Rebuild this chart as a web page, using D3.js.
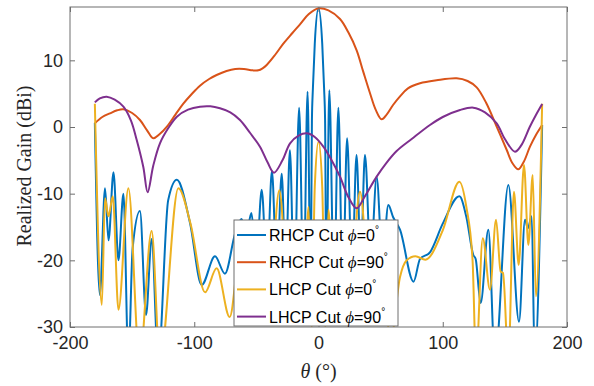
<!DOCTYPE html>
<html>
<head>
<meta charset="utf-8">
<script src="https://cdn.jsdelivr.net/npm/d3@7"></script>
<style>
  html, body { margin: 0; padding: 0; background: #fff; }
  svg { display: block; }
</style>
</head>
<body>
<div id="chart"></div>
<script>
// theta (deg) / realized gain (dBi) at peaks, nulls and bends
const rhcpPhi0 = [
  [-180, 0.6], [-176, -25.2], [-171.8, -9.2], [-169, -17], [-165, -6.8], [-161, -20],
  [-157, -10], [-153, -35], [-149.6, -18.2], [-143.7, -12.6], [-138.8, -28.2], [-134.3, -16.8],
  [-129, -35], [-121, -11], [-114, -7.9], [-103.4, -14.4], [-94, -23.7], [-83.3, -19.4],
  [-75.3, -22], [-67, -15.9], [-62, -13.8], [-58, -16], [-54, -12.9], [-50, -20],
  [-45.7, -9.4], [-41.5, -22], [-37.5, -6.6], [-33.5, -22], [-29.6, -7], [-26.5, -22],
  [-23, -3.5], [-19.5, -25], [-15.6, 2.9], [-12, -25], [-8.8, 5.3], [-6.3, -25],
  [-5.3, 1], [-4.5, 5.8], [-3, 12.5], [0, 17.8], [3, 12.5], [4.5, 5.8], [5.3, 1], [6.3, -25],
  [8.7, 5.5], [12.5, -25], [16, 2.9], [19.5, -25], [23, -1.7], [27, -22], [30.6, -4.2],
  [34, -20], [37.4, -4.2], [42, -20], [46.8, -7.5], [51.5, -20], [56.2, -11.7], [60, -13.5],
  [65.6, -15.4], [76.5, -23.2], [81.7, -19.8], [89.7, -18.8], [100, -14.5], [113.4, -10.4],
  [119, -13.5], [124.6, -19.2], [126.5, -19.8], [130.5, -26.4], [136.7, -15.4], [142, -35],
  [152.8, -8.7], [161.4, -29.2], [166.2, -13.9], [168.5, -15.2], [171.6, -13.4], [174, -35],
  [180, 0.3]
];

const rhcpPhi90 = [
  [-180, 0.55], [-174, 1.5], [-167.8, 2.05], [-162, 2.5], [-157, 2.65], [-150, 2.1],
  [-143.7, 1.05], [-138, -0.5], [-133, -1.7], [-128, -1.1], [-122, 0.05], [-115, 1.9],
  [-108.8, 3.5], [-102, 4.95], [-95.4, 6.2], [-88, 7.2], [-82, 7.8], [-74, 8.4], [-67, 8.7],
  [-60, 8.7], [-53, 8.5], [-48.4, 8.5], [-45, 8.8], [-41.7, 9.3], [-35, 10.8], [-28.3, 12.5],
  [-21, 14.1], [-14.9, 15.4], [-8, 16.9], [0, 17.8], [8, 17.5], [17.3, 16.2], [24, 14.2],
  [30.7, 11.5], [36, 8.3], [41.4, 5.1], [46, 2.6], [50.8, 1.15], [55, 1.9], [60, 3.3],
  [65.6, 4.6], [72, 5.8], [81.7, 6.55], [95, 7.0], [111.2, 7.3], [120, 6.9], [127.3, 5.95],
  [135, 3.6], [143.4, 0.05], [151.5, -3.45], [156, -5.4], [160.8, -6.35], [165, -5.3],
  [170.2, -2.95], [175, -1.2], [180, 0.3]
];

const lhcpPhi0 = [
  [-180, 3.5], [-174.4, -26.7], [-171.8, -10.7], [-169, -13.4], [-165.6, -10.4], [-161, -27.4],
  [-153, -9.2], [-144, -35], [-134.3, -15.6], [-127.6, -35], [-112.8, -9.2], [-103, -14.5],
  [-91.3, -24.8], [-82, -21.2], [-71.5, -28.5], [-62, -17], [-55, -26], [-47, -16], [-40, -26],
  [-31.5, -9.5], [-24, -26], [-17, -17], [-12, -28], [-8, -12], [-5.5, -30], [-3, -9],
  [0, -2.2], [3, -9], [5.5, -30], [8, -12.4], [12, -28], [17, -17], [24, -28], [33.4, -9.7],
  [42, -26], [50, -17], [58, -32], [65.6, -22.5], [71, -20], [78, -19.4], [86, -19.9],
  [100, -15.5], [113.4, -8.2], [119, -12], [124, -20], [126.8, -35], [132.2, -16.7],
  [138, -24.4], [142.9, -13.9], [146.6, -21.7], [148.5, -21.9], [152.8, -35], [157.3, -9.7],
  [161.1, -20.7], [165.4, -5.7], [168.9, -17.7], [172.4, -7.2], [175, -25.4], [180, 3.5]
];

const lhcpPhi90 = [
  [-180, 3.7], [-176, 4.3], [-170.5, 4.55], [-164, 4.1], [-157, 3.05], [-151, 1],
  [-146.3, -1.95], [-141, -6], [-137.5, -9.8], [-133, -5.8], [-127.6, -2.45], [-121, -0.2],
  [-114, 1.55], [-105, 2.6], [-95.4, 3.05], [-87, 3.1], [-79.3, 2.8], [-71, 2.2], [-63.2, 1.05],
  [-55, -0.9], [-47.1, -2.95], [-41, -5.3], [-35.8, -6.85], [-29, -5], [-22.9, -2.45],
  [-16, -1.3], [-9.5, -0.95], [-3, -1.5], [3.9, -2.95], [10, -4.8], [17.3, -7.45], [24, -10.5],
  [30.7, -12.2], [37, -10.5], [46.8, -7.45], [55, -5.3], [62.9, -3.6], [75, -1.8], [89.7, 0.3],
  [100, 1.5], [113.9, 2.55], [124.6, 2.9], [134, 2.2], [143.4, 0.55], [150, -1.8], [158.1, -3.7],
  [163, -2.8], [170, 0], [175, 1.8], [180, 3.45]
];

const seriesNames = ["RHCP Cut ", "RHCP Cut ", "LHCP Cut ", "LHCP Cut "];
const seriesPhi = ["0", "90", "0", "90"];
const seriesColors = ["#0072BD", "#D95319", "#EDB120", "#7E2F8E"];
const xTicks = [-200, -100, 0, 100, 200];
const yTicks = [-30, -20, -10, 0, 10];

const W = 594, H = 386;
const margin = { top: 7, right: 27, bottom: 59, left: 70 };
const iw = W - margin.left - margin.right;
const ih = H - margin.top - margin.bottom;

const svg = d3.select("#chart").append("svg")
  .attr("width", W).attr("height", H);

const x = d3.scaleLinear().domain([-200, 200]).range([0, iw]);
const y = d3.scaleLinear().domain([-30, 18]).range([ih, 0]);

const g = svg.append("g").attr("transform", `translate(${margin.left},${margin.top})`);

g.append("clipPath").attr("id", "plotclip")
  .append("rect").attr("width", iw).attr("height", ih);

// lobed cuts keep monotone so peaks sit on the read values; the smooth cuts use catmull-rom
const lobed = d3.line()
  .x(d => x(d[0]))
  .y(d => y(d[1]))
  .curve(d3.curveMonotoneX);
const smooth = d3.line()
  .x(d => x(d[0]))
  .y(d => y(d[1]))
  .curve(d3.curveCatmullRom.alpha(0.5));

const allSeries = [rhcpPhi0, rhcpPhi90, lhcpPhi0, lhcpPhi90];
const lineGen = [lobed, smooth, lobed, smooth];
const plot = g.append("g").attr("clip-path", "url(#plotclip)");
allSeries.forEach((s, i) => {
  plot.append("path")
    .datum(s)
    .attr("fill", "none")
    .attr("stroke", seriesColors[i])
    .attr("stroke-width", 2)
    .attr("stroke-linejoin", "round")
    .attr("d", lineGen[i]);
});

// box + inward ticks, matlab style
const axisColor = "#6e6e6e";
const textColor = "#262626";
const tickLen = 5;
const plainNum = d => String(d);   // matlab prints a hyphen, not a unicode minus

g.append("rect").attr("width", iw).attr("height", ih)
  .attr("fill", "none").attr("stroke", axisColor).attr("stroke-width", 1);

const xAxis = g.append("g").attr("transform", `translate(0,${ih})`)
  .call(d3.axisBottom(x).tickValues(xTicks).tickSizeInner(-tickLen).tickSizeOuter(0)
    .tickPadding(9).tickFormat(plainNum));
const xAxisTop = g.append("g")
  .call(d3.axisTop(x).tickValues(xTicks).tickSizeInner(-tickLen).tickSizeOuter(0).tickFormat(""));
const yAxis = g.append("g")
  .call(d3.axisLeft(y).tickValues(yTicks).tickSizeInner(-tickLen).tickSizeOuter(0)
    .tickPadding(7).tickFormat(plainNum));
const yAxisRight = g.append("g").attr("transform", `translate(${iw},0)`)
  .call(d3.axisRight(y).tickValues(yTicks).tickSizeInner(-tickLen).tickSizeOuter(0).tickFormat(""));

[xAxis, xAxisTop, yAxis, yAxisRight].forEach(a => {
  a.select(".domain").remove();
  a.selectAll(".tick line").attr("stroke", axisColor);
  a.selectAll(".tick text")
    .attr("fill", textColor)
    .style("font-family", "'Liberation Sans', Arial, sans-serif")
    .style("font-size", "18px");
});

// axis titles
svg.append("text")
  .attr("x", margin.left + x(0))
  .attr("y", 378)
  .attr("text-anchor", "middle")
  .attr("fill", textColor)
  .style("font-family", "'Liberation Serif', 'Times New Roman', serif")
  .style("font-size", "20px")
  .html('<tspan font-style="italic">θ</tspan> (°)');

svg.append("text")
  .attr("transform", `translate(31,${margin.top + ih / 2 - 1}) rotate(-90)`)
  .attr("text-anchor", "middle")
  .attr("fill", textColor)
  .style("font-family", "'Liberation Serif', 'Times New Roman', serif")
  .style("font-size", "20px")
  .text("Realized Gain (dBi)");

// legend
const lg = svg.append("g").attr("transform", "translate(234,220)");
lg.append("rect").attr("width", 164).attr("height", 106)
  .attr("fill", "#fff").attr("stroke", axisColor).attr("stroke-width", 1);

seriesNames.forEach((name, i) => {
  const ry = 15 + i * 27.2;
  lg.append("line")
    .attr("x1", 3).attr("x2", 32).attr("y1", ry).attr("y2", ry)
    .attr("stroke", seriesColors[i]).attr("stroke-width", 2);
  const t = lg.append("text")
    .attr("x", 35).attr("y", ry + 6)
    .attr("fill", "#000")
    .style("font-family", "'Liberation Sans', Arial, sans-serif")
    .style("font-size", "16px");
  t.append("tspan").text(name);
  t.append("tspan")
    .style("font-family", "'Liberation Serif', 'Times New Roman', serif")
    .style("font-style", "italic")
    .style("font-size", "17px")
    .text("ϕ");
  t.append("tspan").text("=" + seriesPhi[i]);
  t.append("tspan").attr("dy", -8).style("font-size", "10px").text("°");
});
</script>
</body>
</html>
